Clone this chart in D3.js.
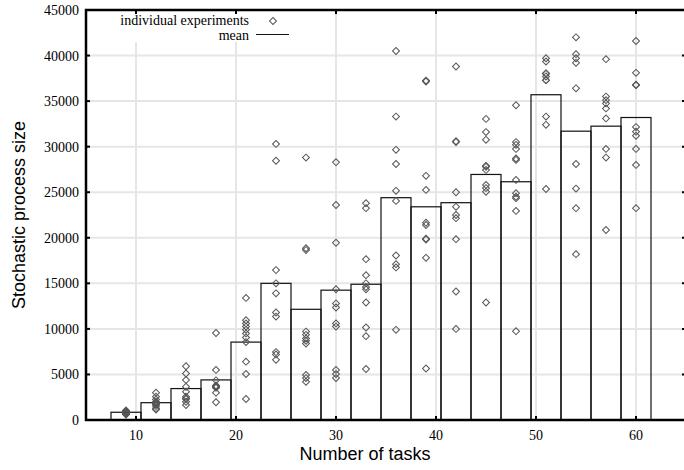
<!DOCTYPE html>
<html>
<head>
<meta charset="utf-8">
<script src="https://cdn.jsdelivr.net/npm/d3@7"></script>
<style>
  body { margin: 0; background: #fff; }
  .tick-label { font-family: "Liberation Serif", "Times New Roman", serif; font-size: 14px; fill: #000; }
  .axis-title { font-family: "Liberation Sans", Arial, sans-serif; font-size: 18px; fill: #000; }
  .legend-text { font-family: "Liberation Serif", "Times New Roman", serif; font-size: 14px; fill: #000; }
</style>
</head>
<body>
<div class="chart-container"></div>
<script>
// datos
const tasks = [9, 12, 15, 18, 21, 24, 27, 30, 33, 36, 39, 42, 45, 48, 51, 54, 57, 60]
const meanSize = [850, 1900, 3450, 4400, 8550, 15000, 12150, 14250, 14900, 24400, 23400, 23850, 26950, 26150, 35700, 31700, 32250, 33200]
const experiments = [
  [1050, 950, 900, 850, 800, 750, 700, 650, 600, 850],
  [3000, 2550, 2250, 2000, 1800, 1550, 1300, 1150, 1700, 1900],
  [5900, 5100, 4400, 3650, 3100, 2550, 2300, 2400, 2000, 1650],
  [9550, 5500, 4350, 3800, 3600, 3700, 3000, 1950, 3550, 3650],
  [13400, 10950, 10600, 10250, 9900, 9500, 9050, 8550, 6400, 5050, 2300],
  [30300, 28450, 16450, 15000, 13900, 11800, 11350, 7450, 7200, 6600],
  [28800, 18850, 18650, 9700, 9350, 8950, 8700, 8400, 4950, 4600, 4200],
  [28300, 23600, 19450, 14350, 12800, 12350, 10600, 10250, 5500, 5050, 4600],
  [23800, 23250, 17650, 15900, 15000, 14600, 14350, 12900, 10150, 9200, 5600],
  [40500, 33300, 29650, 28100, 25150, 24050, 18050, 17100, 16750, 9900],
  [37250, 37150, 26800, 25250, 21650, 21400, 19900, 19800, 17800, 5650],
  [38800, 30600, 30500, 25000, 23400, 22500, 22150, 19850, 14100, 10000],
  [33050, 31600, 30750, 27900, 27800, 27450, 25800, 25450, 25050, 12900],
  [34550, 30500, 30200, 29750, 28700, 28550, 26350, 24900, 24500, 24350, 22950, 9750],
  [39700, 39350, 38050, 38000, 37700, 37300, 37300, 33300, 32400, 25350],
  [42000, 40150, 39700, 39200, 36400, 28100, 25400, 23250, 18200],
  [39600, 35500, 35100, 34750, 34200, 33100, 29750, 28800, 20850],
  [41600, 38100, 36800, 36750, 32150, 31650, 31200, 29750, 28000, 23250]
]
const xTicks = [10, 20, 30, 40, 50, 60]
const yTicks = [0, 5000, 10000, 15000, 20000, 25000, 30000, 35000, 40000, 45000]

const WIDTH = 684
const HEIGHT = 470
const margin = { top: 10, bottom: 50, left: 86, right: -2 }
const width = WIDTH - margin.left - margin.right
const height = HEIGHT - margin.top - margin.bottom
const boxWidth = 3

const svg = d3.select(".chart-container")
  .append("svg")
  .attr("width", WIDTH)
  .attr("height", HEIGHT)

const xScale = d3.scaleLinear().domain([5, 65]).range([0, width])
const yScale = d3.scaleLinear().domain([0, 45000]).range([height, 0])

const chart = svg.append("g").attr("transform", `translate(${margin.left}, ${margin.top})`)

// Grilla
const grid = chart.append("g")
grid.selectAll(".gx")
  .data(xTicks)
  .join("line")
  .attr("x1", d => xScale(d)).attr("x2", d => xScale(d))
  .attr("y1", 0).attr("y2", height)
  .attr("stroke", "#e6e6e6").attr("stroke-width", 2)
grid.selectAll(".gy")
  .data(yTicks.slice(1, -1))
  .join("line")
  .attr("x1", 0).attr("x2", width)
  .attr("y1", d => yScale(d)).attr("y2", d => yScale(d))
  .attr("stroke", "#e6e6e6").attr("stroke-width", 2)

// Leyenda tapa la grilla
chart.append("rect")
  .attr("x", 10).attr("y", 1)
  .attr("width", 205).attr("height", 31)
  .attr("fill", "#fff")

// Cajas de la media
chart.append("g").selectAll("rect")
  .data(tasks.map((t, i) => ({ t: t, m: meanSize[i] })))
  .join("rect")
  .attr("x", d => xScale(d.t - boxWidth / 2))
  .attr("y", d => yScale(d.m))
  .attr("width", d => xScale(d.t + boxWidth / 2) - xScale(d.t - boxWidth / 2))
  .attr("height", d => yScale(0) - yScale(d.m))
  .attr("fill", "none")
  .attr("stroke", "#111")
  .attr("stroke-width", 1.2)

// Puntos individuales
const points = []
tasks.forEach((t, i) => {
  experiments[i].forEach(v => points.push({ t: t, v: v }))
})
const diamond = d3.symbol().type(d3.symbolSquare).size(24)
chart.append("g").selectAll("path")
  .data(points)
  .join("path")
  .attr("d", diamond)
  .attr("transform", d => `translate(${xScale(d.t)}, ${yScale(d.v)}) rotate(45)`)
  .attr("fill", "none")
  .attr("stroke", "#555")
  .attr("stroke-width", 1)

// Borde y ticks
chart.append("rect")
  .attr("x", 0).attr("y", 0)
  .attr("width", width).attr("height", height)
  .attr("fill", "none")
  .attr("stroke", "#000")
  .attr("stroke-width", 2.5)

const ticks = chart.append("g").attr("stroke", "#000").attr("stroke-width", 2)
xTicks.forEach(t => {
  ticks.append("line").attr("x1", xScale(t)).attr("x2", xScale(t)).attr("y1", height).attr("y2", height - 4)
  ticks.append("line").attr("x1", xScale(t)).attr("x2", xScale(t)).attr("y1", 0).attr("y2", 4)
})
yTicks.forEach(t => {
  ticks.append("line").attr("x1", 0).attr("x2", 4).attr("y1", yScale(t)).attr("y2", yScale(t))
  ticks.append("line").attr("x1", width).attr("x2", width - 4).attr("y1", yScale(t)).attr("y2", yScale(t))
})

chart.append("g").selectAll("text")
  .data(xTicks)
  .join("text")
  .attr("class", "tick-label")
  .attr("x", d => xScale(d))
  .attr("y", height + 20)
  .attr("text-anchor", "middle")
  .text(d => d)

chart.append("g").selectAll("text")
  .data(yTicks)
  .join("text")
  .attr("class", "tick-label")
  .attr("x", -7)
  .attr("y", d => yScale(d) + 5)
  .attr("text-anchor", "end")
  .text(d => d)

// Titulos de ejes
svg.append("text")
  .attr("class", "axis-title")
  .attr("x", 365).attr("y", 460)
  .attr("text-anchor", "middle")
  .text("Number of tasks")

svg.append("text")
  .attr("class", "axis-title")
  .attr("transform", "translate(25, 215) rotate(-90)")
  .attr("text-anchor", "middle")
  .text("Stochastic process size")

// Leyenda
svg.append("text").attr("class", "legend-text")
  .attr("x", 249).attr("y", 25).attr("text-anchor", "end")
  .text("individual experiments")
svg.append("path")
  .attr("d", diamond)
  .attr("transform", "translate(273, 21) rotate(45)")
  .attr("fill", "none").attr("stroke", "#555").attr("stroke-width", 1)
svg.append("text").attr("class", "legend-text")
  .attr("x", 249).attr("y", 40).attr("text-anchor", "end")
  .text("mean")
svg.append("line")
  .attr("x1", 256).attr("x2", 289).attr("y1", 34.5).attr("y2", 34.5)
  .attr("stroke", "#111").attr("stroke-width", 1.2)
</script>
</body>
</html>
